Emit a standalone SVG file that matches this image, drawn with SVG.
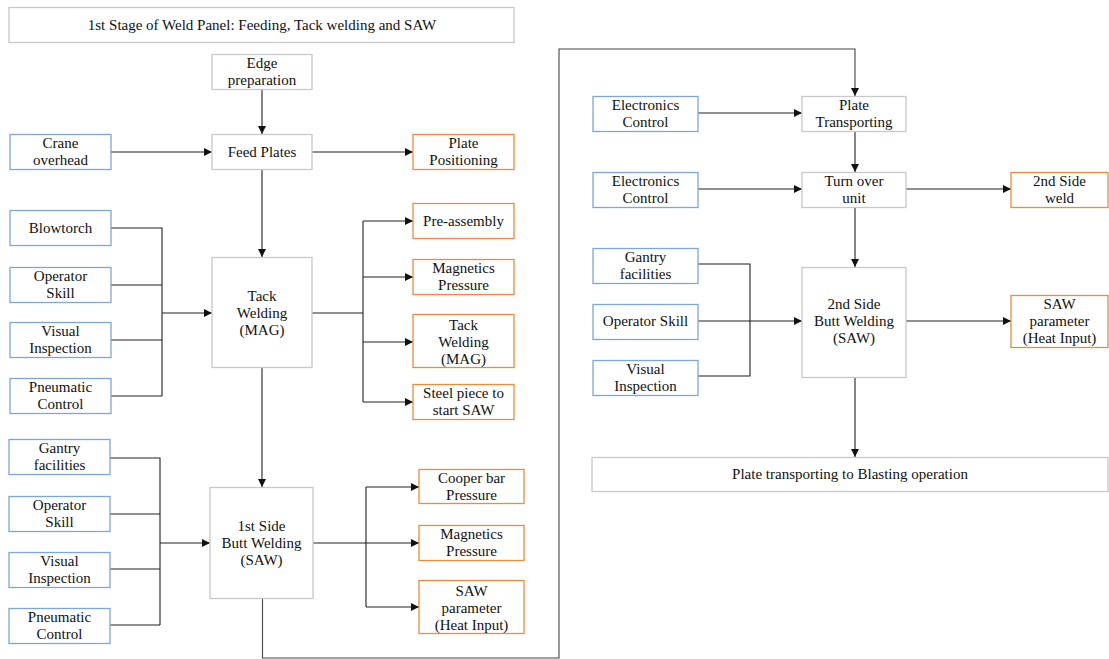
<svg xmlns="http://www.w3.org/2000/svg" width="1109" height="659" viewBox="0 0 1109 659">
<style>
.bx{fill:#fff;stroke-width:1.3}
.g{stroke:#c8c8c8}
.b{stroke:#7ea6dc}
.o{stroke:#ed8a3f}
text{font-family:"Liberation Serif","Times New Roman",serif;font-size:15px;fill:#111;text-anchor:middle}
.ln{fill:none;stroke:#222;stroke-width:1.1}
.ar{marker-end:url(#ah)}
</style>
<defs>
<marker id="ah" viewBox="0 0 10 10" refX="10" refY="5" markerWidth="8" markerHeight="8" markerUnits="userSpaceOnUse" orient="auto">
<path d="M0,0 L10,5 L0,10 z" fill="#111"/>
</marker>
</defs>
<rect width="1109" height="659" fill="#fff"/>

<g id="connectors">
<path class="ln ar" d="M262,89 V134"/>
<path class="ln ar" d="M111,152 H212"/>
<path class="ln ar" d="M312,152 H413"/>
<path class="ln ar" d="M262,169 V257"/>
<path class="ln" d="M111,228 H162 V396 M111,285 H162 M111,340 H162 M111,396 H162"/>
<path class="ln ar" d="M162,313 H212"/>
<path class="ln" d="M312,313 H363 M363,221 V402"/>
<path class="ln ar" d="M363,221 H413"/>
<path class="ln ar" d="M363,277 H413"/>
<path class="ln ar" d="M363,342 H413"/>
<path class="ln ar" d="M363,402 H413"/>
<path class="ln ar" d="M262,367 V487"/>
<path class="ln" d="M110,458 H160 V625 M110,514 H160 M110,569 H160 M110,625 H160"/>
<path class="ln ar" d="M160,543 H210"/>
<path class="ln" d="M313,543 H366 M366,487 V607"/>
<path class="ln ar" d="M366,487 H419"/>
<path class="ln ar" d="M366,543 H419"/>
<path class="ln ar" d="M366,607 H419"/>
<path class="ln ar" d="M262.5,598 V658 H559 V49 H855 V96" style="stroke:#444"/>
<path class="ln ar" d="M698,113 H802"/>
<path class="ln ar" d="M855,131 V172"/>
<path class="ln ar" d="M698,189 H802"/>
<path class="ln ar" d="M906,189 H1011"/>
<path class="ln ar" d="M855,207 V267"/>
<path class="ln" d="M698,264 H750 V376 H698"/>
<path class="ln ar" d="M698,321 H802"/>
<path class="ln ar" d="M906,321 H1011"/>
<path class="ln ar" d="M855,377 V457"/>
</g>

<g id="title"><rect class="bx g" x="9" y="7.5" width="505" height="35"/><text x="262" y="30">1st Stage of Weld Panel: Feeding, Tack welding and SAW</text></g>
<g id="edge-prep"><rect class="bx g" x="212" y="54.5" width="100" height="35"/><text x="262" y="68">Edge</text><text x="262" y="85">preparation</text></g>
<g id="crane"><rect class="bx b" x="10" y="134.5" width="101" height="35"/><text x="60.5" y="148">Crane</text><text x="60.5" y="165">overhead</text></g>
<g id="feed-plates"><rect class="bx g" x="212" y="134.5" width="100" height="35"/><text x="262" y="157">Feed Plates</text></g>
<g id="plate-positioning"><rect class="bx o" x="413" y="134.5" width="101" height="35"/><text x="463.5" y="148">Plate</text><text x="463.5" y="165">Positioning</text></g>

<g id="blowtorch"><rect class="bx b" x="10" y="210.5" width="101" height="35"/><text x="60.5" y="233">Blowtorch</text></g>
<g id="operator-skill-1"><rect class="bx b" x="10" y="267.5" width="101" height="35"/><text x="60.5" y="281">Operator</text><text x="60.5" y="298">Skill</text></g>
<g id="visual-1"><rect class="bx b" x="10" y="322.5" width="101" height="35"/><text x="60.5" y="336">Visual</text><text x="60.5" y="353">Inspection</text></g>
<g id="pneumatic-1"><rect class="bx b" x="10" y="378.5" width="101" height="35"/><text x="60.5" y="392">Pneumatic</text><text x="60.5" y="409">Control</text></g>
<g id="tack-welding"><rect class="bx g" x="212" y="257.5" width="100" height="110"/><text x="262" y="301">Tack</text><text x="262" y="318">Welding</text><text x="262" y="335">(MAG)</text></g>
<g id="pre-assembly"><rect class="bx o" x="413" y="203.5" width="101" height="35"/><text x="463.5" y="226">Pre-assembly</text></g>
<g id="magnetics-1"><rect class="bx o" x="413" y="259.5" width="101" height="35"/><text x="463.5" y="273">Magnetics</text><text x="463.5" y="290">Pressure</text></g>
<g id="tack-welding-out"><rect class="bx o" x="413" y="314.5" width="101" height="53"/><text x="463.5" y="330">Tack</text><text x="463.5" y="347">Welding</text><text x="463.5" y="364">(MAG)</text></g>
<g id="steel-piece"><rect class="bx o" x="413" y="384.5" width="101" height="35"/><text x="463.5" y="398">Steel piece to</text><text x="463.5" y="415">start SAW</text></g>

<g id="gantry-1"><rect class="bx b" x="9" y="439.5" width="101" height="35"/><text x="59.5" y="453">Gantry</text><text x="59.5" y="470">facilities</text></g>
<g id="operator-skill-2"><rect class="bx b" x="9" y="496.5" width="101" height="35"/><text x="59.5" y="510">Operator</text><text x="59.5" y="527">Skill</text></g>
<g id="visual-2"><rect class="bx b" x="9" y="552.5" width="101" height="35"/><text x="59.5" y="566">Visual</text><text x="59.5" y="583">Inspection</text></g>
<g id="pneumatic-2"><rect class="bx b" x="9" y="608.5" width="101" height="35"/><text x="59.5" y="622">Pneumatic</text><text x="59.5" y="639">Control</text></g>
<g id="first-side"><rect class="bx g" x="210" y="487.5" width="103" height="111"/><text x="261.5" y="531">1st Side</text><text x="261.5" y="548">Butt Welding</text><text x="261.5" y="565">(SAW)</text></g>
<g id="cooper-bar"><rect class="bx o" x="419" y="469.5" width="105" height="34"/><text x="471.5" y="483">Cooper bar</text><text x="471.5" y="500">Pressure</text></g>
<g id="magnetics-2"><rect class="bx o" x="419" y="525.5" width="105" height="35"/><text x="471.5" y="539">Magnetics</text><text x="471.5" y="556">Pressure</text></g>
<g id="saw-param-1"><rect class="bx o" x="419" y="580.5" width="105" height="53"/><text x="471.5" y="596">SAW</text><text x="471.5" y="613">parameter</text><text x="471.5" y="630">(Heat Input)</text></g>

<g id="electronics-1"><rect class="bx b" x="593" y="96.5" width="105" height="35"/><text x="645.5" y="110">Electronics</text><text x="645.5" y="127">Control</text></g>
<g id="plate-transporting"><rect class="bx g" x="802" y="96.5" width="104" height="35"/><text x="854" y="110">Plate</text><text x="854" y="127">Transporting</text></g>
<g id="electronics-2"><rect class="bx b" x="593" y="172.5" width="105" height="35"/><text x="645.5" y="186">Electronics</text><text x="645.5" y="203">Control</text></g>
<g id="turn-over"><rect class="bx g" x="802" y="172.5" width="104" height="35"/><text x="854" y="186">Turn over</text><text x="854" y="203">unit</text></g>
<g id="second-side-weld"><rect class="bx o" x="1011" y="172.5" width="97" height="35"/><text x="1059.5" y="186">2nd Side</text><text x="1059.5" y="203">weld</text></g>
<g id="gantry-2"><rect class="bx b" x="593" y="248.5" width="105" height="35"/><text x="645.5" y="262">Gantry</text><text x="645.5" y="279">facilities</text></g>
<g id="operator-skill-3"><rect class="bx b" x="593" y="304.5" width="105" height="35"/><text x="645.5" y="326">Operator Skill</text></g>
<g id="visual-3"><rect class="bx b" x="593" y="360.5" width="105" height="35"/><text x="645.5" y="374">Visual</text><text x="645.5" y="391">Inspection</text></g>
<g id="second-side"><rect class="bx g" x="802" y="267.5" width="104" height="110"/><text x="854" y="309">2nd Side</text><text x="854" y="326">Butt Welding</text><text x="854" y="343">(SAW)</text></g>
<g id="saw-param-2"><rect class="bx o" x="1011" y="295.5" width="97" height="52"/><text x="1059.5" y="309">SAW</text><text x="1059.5" y="326">parameter</text><text x="1059.5" y="343">(Heat Input)</text></g>
<g id="blasting"><rect class="bx g" x="592" y="457.5" width="516" height="34"/><text x="850" y="479">Plate transporting to Blasting operation</text></g>
</svg>
